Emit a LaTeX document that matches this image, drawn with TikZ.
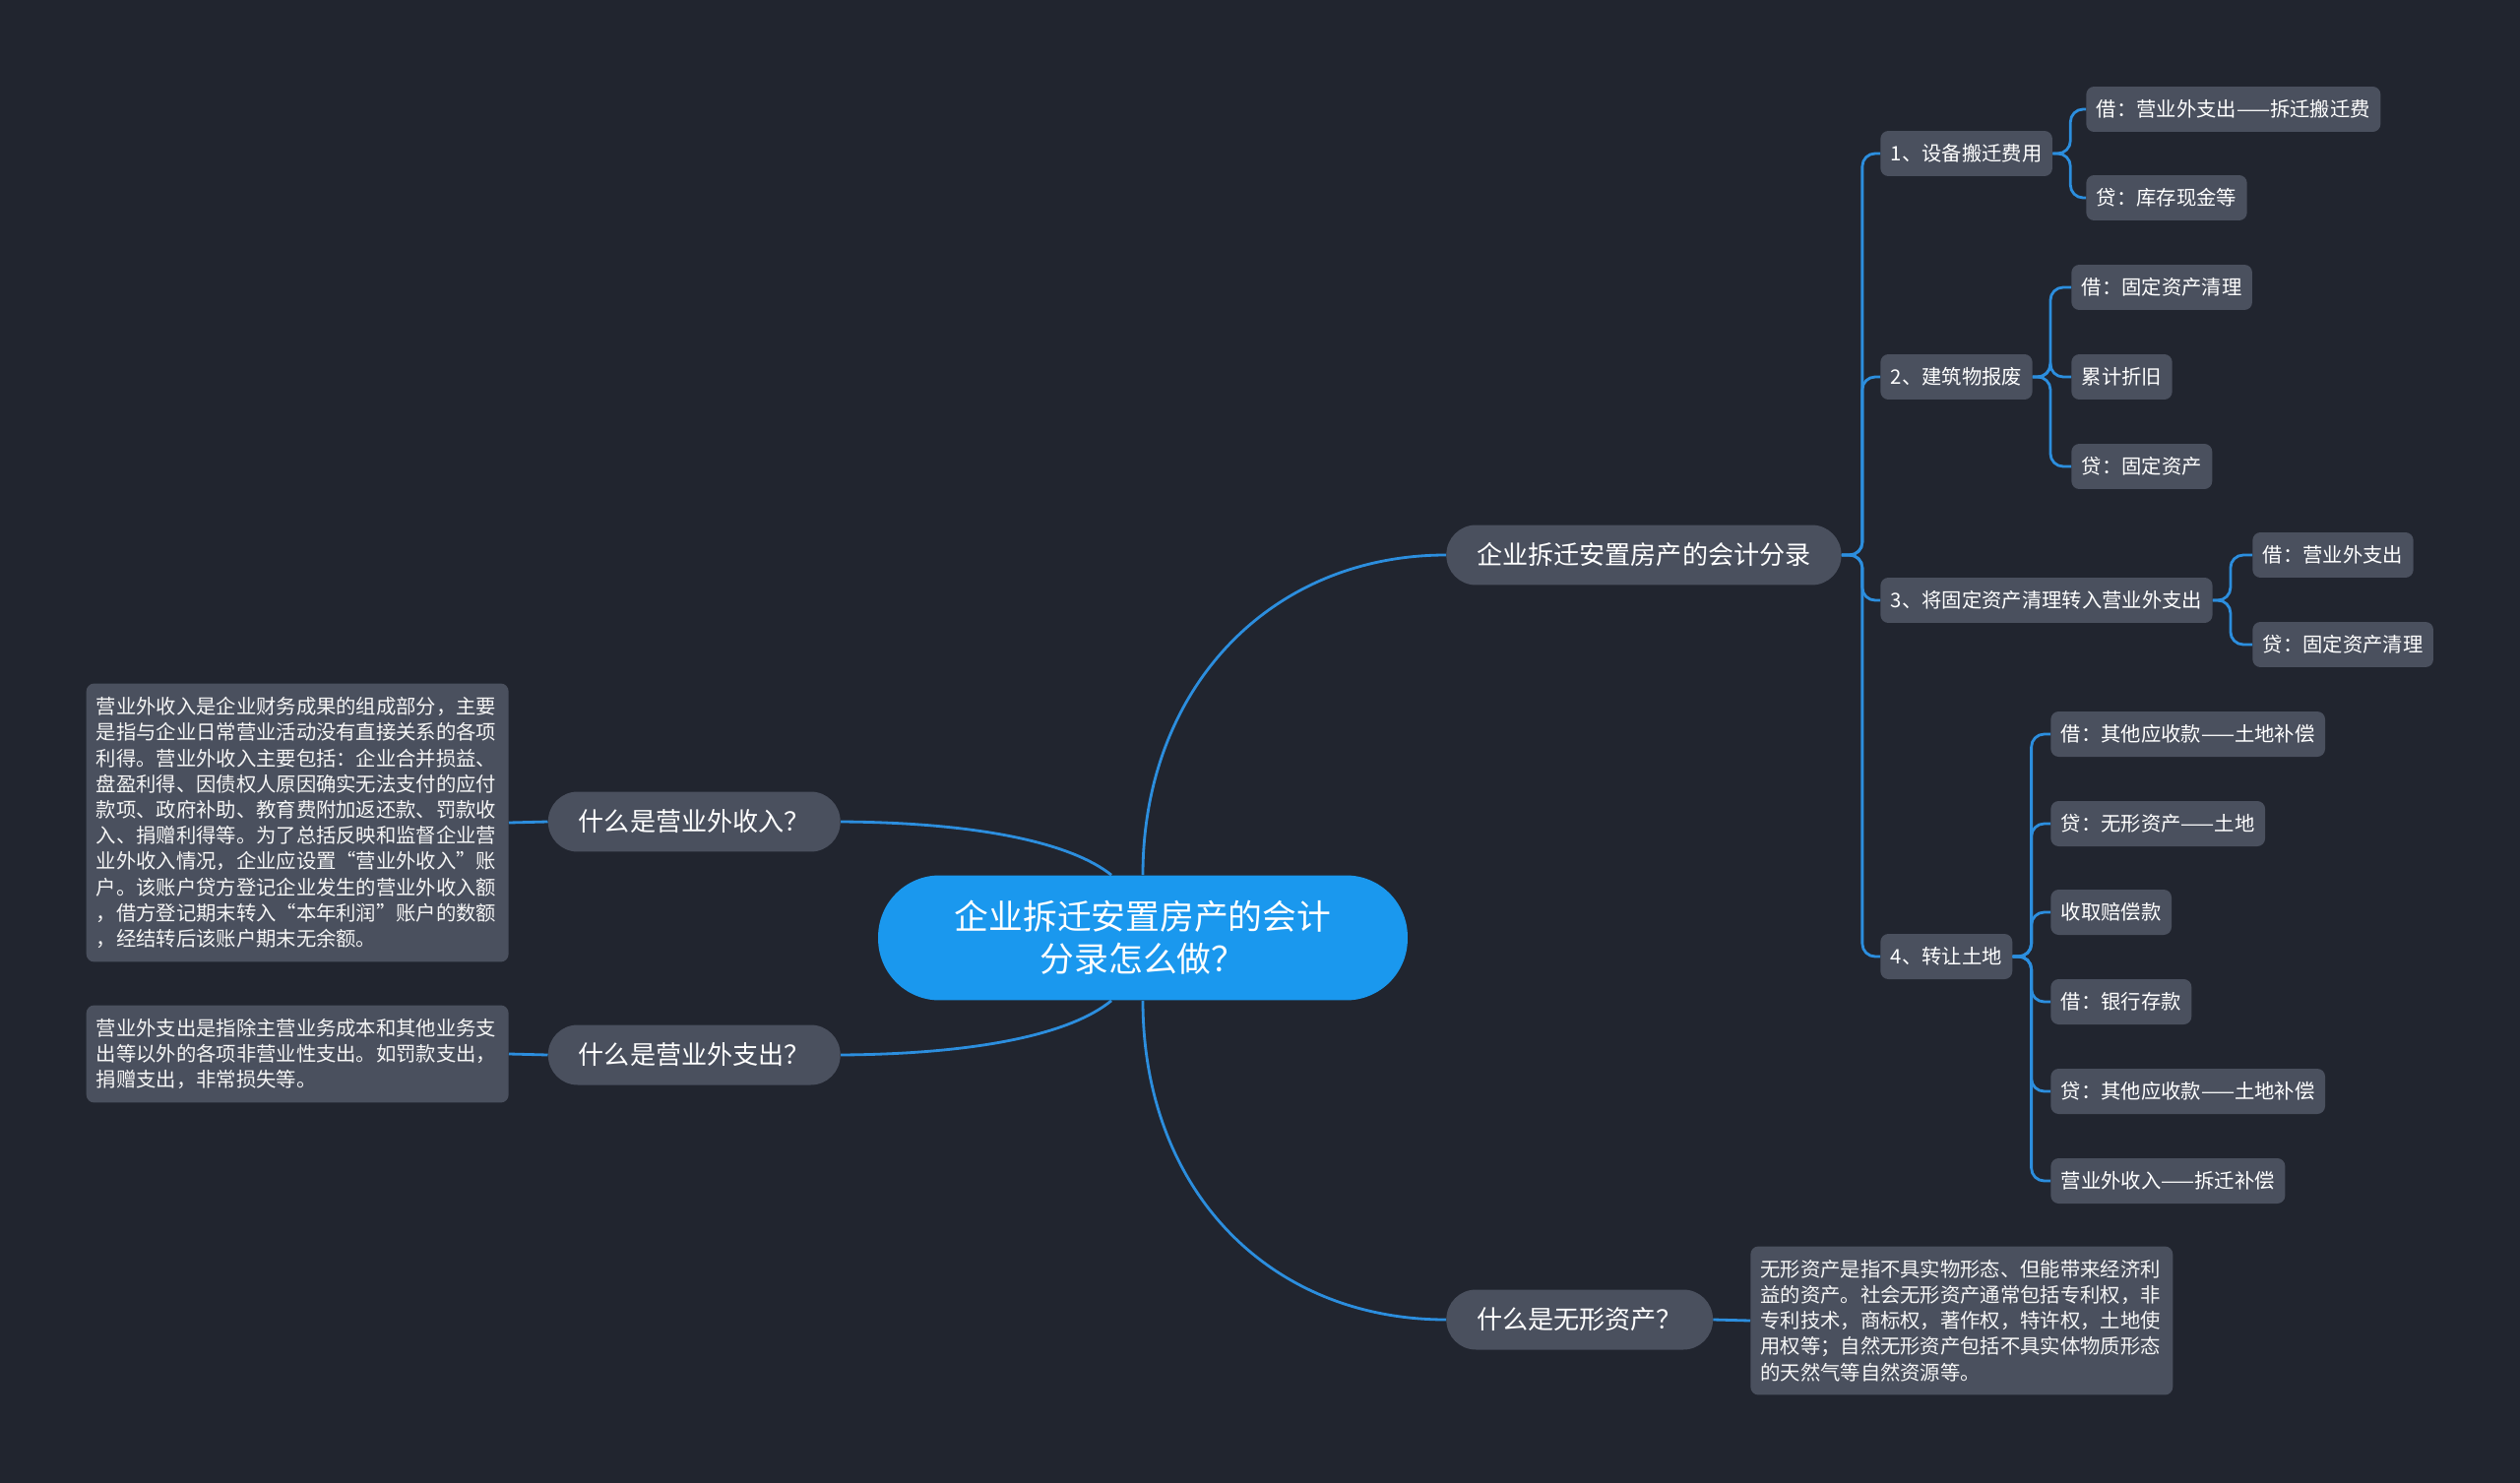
\documentclass[tikz,border=0pt]{standalone}
\usepackage{fontspec}
\usepackage{xcolor}
\usepackage{tikz}
\usetikzlibrary{positioning}
\newfontfamily\cjk{Noto Sans CJK SC}

\definecolor{bgcol}{HTML}{21252F}
\definecolor{boxgray}{HTML}{4A505E}
\definecolor{rootblue}{HTML}{1A98EE}
\definecolor{linkblue}{HTML}{2C8EDE}

\tikzset{
  rootnode/.style={fill=rootblue, text=white, align=center, rounded corners=1.25cm,
    minimum width=10.76cm, minimum height=2.54cm,
    font=\cjk\fontsize{19.8pt}{24.4pt}\selectfont},
  topic/.style={fill=boxgray, text=white, rounded corners=0.6cm, inner xsep=0.62cm,
    inner ysep=0pt, minimum height=1.22cm, font=\cjk\fontsize{14.85pt}{18pt}\selectfont},
  sub/.style={fill=boxgray, text=white, rounded corners=0.16cm, inner xsep=0.21cm,
    inner ysep=0pt, minimum height=0.92cm, font=\cjk\fontsize{11.57pt}{14pt}\selectfont},
  note/.style={fill=boxgray, text=white!92!gray, rounded corners=0.16cm, align=left,
    text width=8.18cm, inner xsep=0.2cm, inner ysep=0.2cm,
    font=\cjk\fontsize{11.57pt}{14.91pt}\selectfont},
  link/.style={draw=linkblue, line width=1.6pt},
  branch/.style={link, rounded corners=0.26cm}
}

\begin{document}
\begin{tikzpicture}[x=0.02cm, y=-0.02cm]
    % Canvas
    \path[use as bounding box, fill=bgcol] (0,0) rectangle (2560,1507);

    % Central topic
    \node[rootnode] (root) at (1161,953) {企业拆迁安置房产的会计\\分录怎么做？};

    % Main topics
    \node[topic, anchor=west] (topicA) at (1469,564) {企业拆迁安置房产的会计分录};
    \node[topic, anchor=east] (topicIn) at (854,835) {什么是营业外收入？};
    \node[topic, anchor=east] (topicOut) at (854,1072) {什么是营业外支出？};
    \node[topic, anchor=west] (topicAsset) at (1469,1341) {什么是无形资产？};

    % Notes
    \node[note, anchor=east, minimum height=5.66cm] (noteIn) at (517,836) {营业外收入是企业财务成果的组成部分，主要\\是指与企业日常营业活动没有直接关系的各项\\利得。营业外收入主要包括：企业合并损益、\\盘盈利得、因债权人原因确实无法支付的应付\\款项、政府补助、教育费附加返还款、罚款收\\入、捐赠利得等。为了总括反映和监督企业营\\业外收入情况，企业应设置“营业外收入”账\\户。该账户贷方登记企业发生的营业外收入额\\，借方登记期末转入“本年利润”账户的数额\\，经结转后该账户期末无余额。};
    \node[note, anchor=east, minimum height=1.98cm] (noteOut) at (517,1071) {营业外支出是指除主营业务成本和其他业务支\\出等以外的各项非营业性支出。如罚款支出，\\捐赠支出，非常损失等。};
    \node[note, anchor=west, minimum height=3.02cm] (noteAsset) at (1778,1342) {无形资产是指不具实物形态、但能带来经济利\\益的资产。社会无形资产通常包括专利权，非\\专利技术，商标权，著作权，特许权，土地使\\用权等；自然无形资产包括不具实体物质形态\\的天然气等自然资源等。};

    % Entry groups
    \node[sub, anchor=west] (s1) at (1910,156) {1、设备搬迁费用};
    \node[sub, anchor=west] (s2) at (1910,383) {2、建筑物报废};
    \node[sub, anchor=west] (s3) at (1910,610) {3、将固定资产清理转入营业外支出};
    \node[sub, anchor=west] (s4) at (1910,972) {4、转让土地};

    % Entries
    \node[sub, anchor=west] (s1a) at (2119,111) {借：营业外支出——拆迁搬迁费};
    \node[sub, anchor=west] (s1b) at (2119,201) {贷：库存现金等};
    \node[sub, anchor=west] (s2a) at (2104,292) {借：固定资产清理};
    \node[sub, anchor=west] (s2b) at (2104,383) {累计折旧};
    \node[sub, anchor=west] (s2c) at (2104,474) {贷：固定资产};
    \node[sub, anchor=west] (s3a) at (2288,564) {借：营业外支出};
    \node[sub, anchor=west] (s3b) at (2288,655) {贷：固定资产清理};
    \node[sub, anchor=west] (s4a) at (2083,746) {借：其他应收款——土地补偿};
    \node[sub, anchor=west] (s4b) at (2083,837) {贷：无形资产——土地};
    \node[sub, anchor=west] (s4c) at (2083,927) {收取赔偿款};
    \node[sub, anchor=west] (s4d) at (2083,1018) {借：银行存款};
    \node[sub, anchor=west] (s4e) at (2083,1109) {贷：其他应收款——土地补偿};
    \node[sub, anchor=west] (s4f) at (2083,1200) {营业外收入——拆迁补偿};

    % Curves from the central topic
    \draw[link] (root.north) .. controls (1161,700) and (1290,564) .. (topicA.west);
    \draw[link] (root.south) .. controls (1161,1210) and (1290,1341) .. (topicAsset.west);
    \coordinate (rootTL) at ([xshift=-0.64cm]root.north);
    \coordinate (rootBL) at ([xshift=-0.64cm]root.south);
    \draw[link] (topicIn.east) .. controls (1000,836) and (1090,858) .. (rootTL);
    \draw[link] (topicOut.east) .. controls (1000,1071) and (1090,1049) .. (rootBL);

    % Notes to topics
    \draw[link] (noteIn.east) -- (topicIn.west);
    \draw[link] (noteOut.east) -- (topicOut.west);
    \draw[link] (topicAsset.east) -- (noteAsset.west);

    % Branches
    \foreach \s in {s1,s2,s3,s4}
      \draw[branch] (topicA.east) -- ++(21,0) |- (\s.west);
    \foreach \c in {a,b}
      \draw[branch] (s1.east) -- ++(18,0) |- (s1\c.west);
    \foreach \c in {a,b,c}
      \draw[branch] (s2.east) -- ++(18,0) |- (s2\c.west);
    \foreach \c in {a,b}
      \draw[branch] (s3.east) -- ++(18,0) |- (s3\c.west);
    \foreach \c in {a,b,c,d,e,f}
      \draw[branch] (s4.east) -- ++(19,0) |- (s4\c.west);
  \end{tikzpicture}
\end{document}
